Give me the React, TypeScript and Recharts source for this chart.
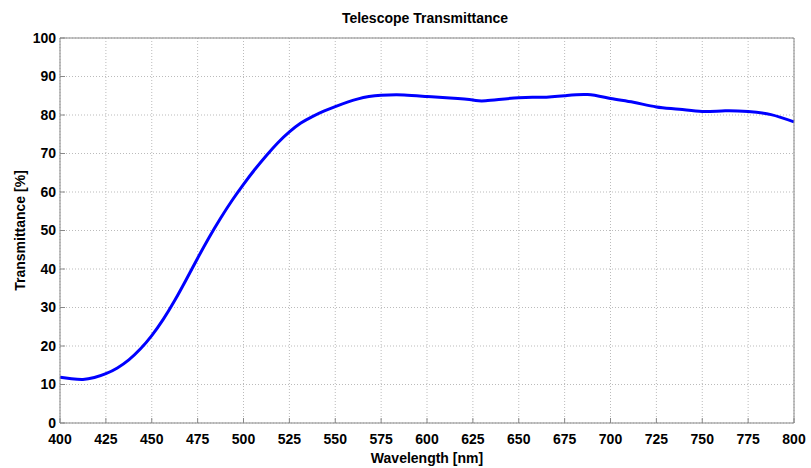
import * as React from "react";
import {
  LineChart,
  Line,
  XAxis,
  YAxis,
  CartesianGrid,
  Label,
} from "recharts";

// wavelength samples (nm) and measured transmittance (%)
const wavelength = [
  400, 406.25, 412.5, 418.75, 425, 431.25, 437.5, 443.75, 450, 456.25, 462.5,
  468.75, 475, 481.25, 487.5, 493.75, 500, 506.25, 512.5, 518.75, 525, 531.25,
  537.5, 543.75, 550, 562.5, 575, 587.5, 600, 612.5, 625, 632, 650, 662.5, 675,
  687.5, 700, 712.5, 725, 737.5, 750, 762.5, 775, 787.5, 800,
];
const transmittance = [
  11.9, 11.5, 11.3, 11.8, 12.8, 14.3, 16.4, 19.2, 22.7, 26.9, 31.8, 37.2, 42.8,
  48.2, 53.2, 57.8, 62.0, 65.9, 69.5, 72.8, 75.6, 77.9, 79.6, 81.0, 82.2, 84.2,
  85.1, 85.2, 84.8, 84.4, 83.9, 83.7, 84.5, 84.6, 85.0, 85.3, 84.3, 83.3, 82.1,
  81.5, 80.9, 81.1, 80.9, 80.1, 78.2,
];

const xTicks = [
  400, 425, 450, 475, 500, 525, 550, 575, 600, 625, 650, 675, 700, 725, 750,
  775, 800,
];
const yTicks = [0, 10, 20, 30, 40, 50, 60, 70, 80, 90, 100];

const data = wavelength.map((w, i) => ({ w, t: transmittance[i] }));

const font = "'Liberation Sans', Arial, sans-serif";
const tickStyle = { fill: "#000", fontSize: 14, fontWeight: 700, fontFamily: font };
const labelStyle = { fill: "#000", fontSize: 14, fontWeight: 700, fontFamily: font };
const frame = "#888";

export default function App() {
  return (
    <div style={{ position: "relative", width: 811, height: 468, background: "#fff" }}>
      <style>{"body{margin:0}"}</style>
      <div
        style={{
          position: "absolute",
          left: 0,
          width: 850,
          top: 10,
          textAlign: "center",
          fontFamily: font,
          fontWeight: 700,
          fontSize: 14,
          color: "#000",
        }}
      >
        Telescope Transmittance
      </div>
      <LineChart
        width={811}
        height={468}
        data={data}
        margin={{ top: 37, right: 16, bottom: 0, left: 0 }}
      >
        <CartesianGrid
          xAxisId="b"
          yAxisId="l"
          stroke="#bbb"
          strokeDasharray="1 2"
        />
        <XAxis
          xAxisId="b"
          dataKey="w"
          type="number"
          domain={[400, 800]}
          ticks={xTicks}
          interval={0}
          height={45}
          stroke={frame}
          tickSize={-5}
          tickMargin={16}
          tick={tickStyle}
        >
          <Label value="Wavelength [nm]" position="insideBottom" offset={5} style={labelStyle} />
        </XAxis>
        <XAxis
          xAxisId="t"
          orientation="top"
          dataKey="w"
          type="number"
          domain={[400, 800]}
          ticks={xTicks}
          height={1}
          stroke={frame}
          tickSize={-5}
          tick={false}
        />
        <YAxis
          yAxisId="l"
          type="number"
          domain={[0, 100]}
          ticks={yTicks}
          interval={0}
          width={60}
          stroke={frame}
          tickSize={-5}
          tickMargin={9}
          tick={tickStyle}
        >
          <Label
            value="Transmittance [%]"
            angle={-90}
            position="insideLeft"
            offset={20}
            style={{ ...labelStyle, textAnchor: "middle" }}
          />
        </YAxis>
        <YAxis
          yAxisId="r"
          orientation="right"
          type="number"
          domain={[0, 100]}
          ticks={yTicks}
          width={1}
          stroke={frame}
          tickSize={-5}
          tick={false}
        />
        <Line
          xAxisId="b"
          yAxisId="l"
          dataKey="t"
          type="natural"
          stroke="#0000ff"
          strokeWidth={3}
          dot={false}
          isAnimationActive={false}
        />
      </LineChart>
    </div>
  );
}
